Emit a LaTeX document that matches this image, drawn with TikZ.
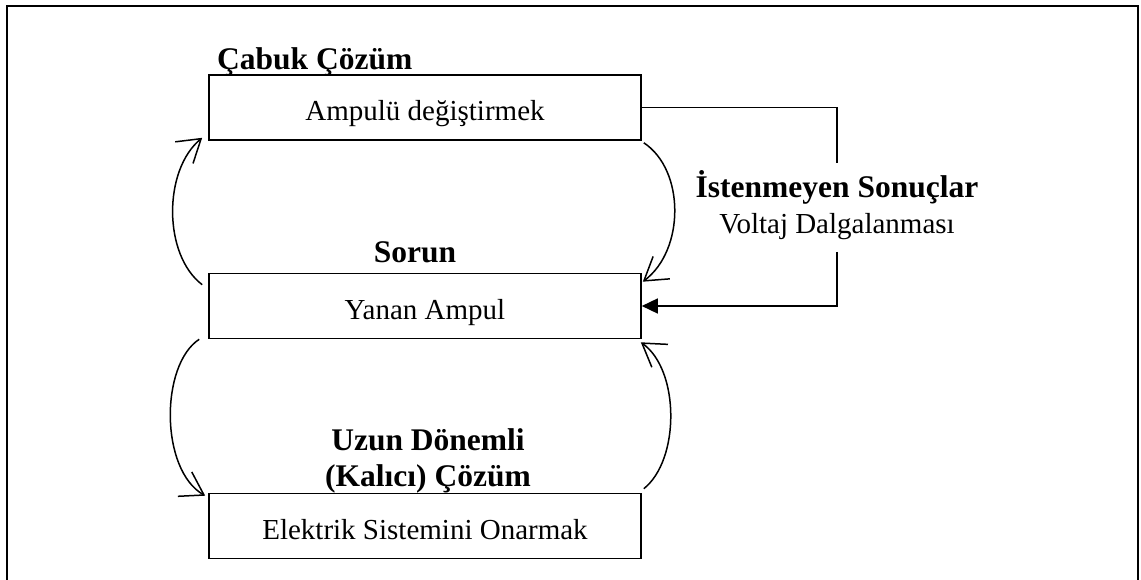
\documentclass[tikz,border=0pt]{standalone}
\usepackage{fontspec}
\setmainfont{Liberation Serif}
\usetikzlibrary{arrows.meta}
\begin{document}
\begin{tikzpicture}[x=1pt,y=-1pt,
  boxnode/.style={draw,line width=1.6pt,minimum width=432pt,minimum height=65pt,inner sep=0pt,
    text height=26pt,text depth=0pt,font=\fontsize{29}{34}\selectfont},
  boldlabel/.style={inner sep=0pt,anchor=base,align=center,font=\fontsize{31.5}{36}\selectfont\bfseries},
  normlabel/.style={inner sep=0pt,anchor=base,align=center,font=\fontsize{29}{36}\selectfont},
  conn/.style={line width=1.5pt},
  barb/.style={conn,-{Straight Barb[length=22pt,width=28pt,line width=1.5pt]}},
  fillarrow/.style={conn,-{Triangle[length=16pt,width=15pt]}}]
\useasboundingbox (0,0) rectangle (1141,580);
\draw[line width=2.5pt] (7,590) -- (7,6) -- (1138,6) -- (1138,590);

\node[boxnode] (b1) at (425,107.5) {Ampulü değiştirmek};
\node[boxnode] (b2) at (425,306) {Yanan Ampul};
\node[boxnode] (b3) at (425,526) {Elektrik Sistemini Onarmak};

\node[boldlabel,anchor=base west] (t1) at (217,70) {Çabuk Çözüm};
\node[boldlabel] (t2) at (415,263) {Sorun};
\node[boldlabel] (t3) at (428,486) {Uzun Dönemli\\(Kalıcı) Çözüm};
\node[normlabel] (t4) at (837,234) {\fontsize{31.5}{36}\selectfont\bfseries İstenmeyen Sonuçlar\\Voltaj Dalgalanması};

\coordinate (c1) at (837,163);
\coordinate (c2) at (837,252);
\draw[conn] (b1.east) -| (c1);
\draw[fillarrow] (c2) |- (b2.east);

% curved arrows
\draw[barb] ([shift={(-6,12)}]b2.north west) .. controls (163,255) and (163,170) .. ([shift={(-6,-3)}]b1.south west);
\draw[barb] ([shift={(2,2)}]b1.south east) .. controls (685,170) and (685,250) .. ([shift={(1,9)}]b2.north east);
\draw[barb] ([shift={(-9,0)}]b2.south west) .. controls (160,365) and (160,470) .. ([shift={(-3,3)}]b3.north west);
\draw[barb] ([shift={(2,-4)}]b3.north east) .. controls (680,460) and (680,370) .. ([shift={(-1,3)}]b2.south east);
\end{tikzpicture}
\end{document}
